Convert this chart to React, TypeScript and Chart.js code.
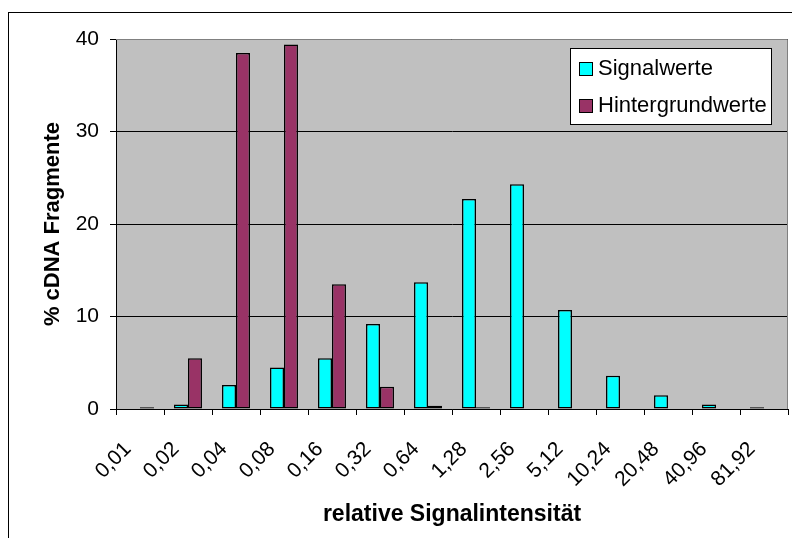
import React, { useEffect, useRef } from "react";
import { Chart, registerables } from "chart.js";

Chart.register(...registerables);

const categories = ["0,01", "0,02", "0,04", "0,08", "0,16", "0,32", "0,64", "1,28", "2,56", "5,12", "10,24", "20,48", "40,96", "81,92"];
const signalValues = [0, 0.5, 2.6, 4.5, 5.5, 9.2, 13.7, 22.7, 24.3, 10.7, 3.6, 1.5, 0.5, 0.2];
const backgroundValues = [0.2, 5.5, 38.5, 39.4, 13.5, 2.4, 0.35, 0.2, 0, 0, 0, 0, 0, 0];
const seriesNames = ["Signalwerte", "Hintergrundwerte"];
const seriesColors = ["#00FFFF", "#993366"];
const yMin = 0;
const yMax = 40;
const yStep = 10;
const yTitle = "% cDNA Fragmente";
const xTitle = "relative Signalintensität";

const FONT = "'Liberation Sans', Arial, Helvetica, sans-serif";

export default function App() {
  const ref = useRef<HTMLCanvasElement | null>(null);

  useEffect(() => {
    if (!ref.current) return;

    const framePlugin = {
      id: "framePlugin",
      beforeDraw(chart: any) {
        const ctx = chart.ctx;
        const a = chart.chartArea;
        ctx.save();
        ctx.fillStyle = "#ffffff";
        ctx.fillRect(0, 0, chart.width, chart.height);
        ctx.strokeStyle = "#000000";
        ctx.lineWidth = 1;
        ctx.strokeRect(8.5, 12.5, chart.width + 20, chart.height + 20);
        ctx.fillStyle = "#C0C0C0";
        ctx.fillRect(a.left, a.top, a.right - a.left, a.bottom - a.top);
        ctx.restore();
      },
      afterDraw(chart: any) {
        const ctx = chart.ctx;
        const a = chart.chartArea;
        ctx.save();
        // plot area border (top & right)
        ctx.strokeStyle = "#808080";
        ctx.lineWidth = 1;
        ctx.beginPath();
        ctx.moveTo(a.left, a.top + 0.5);
        ctx.lineTo(a.right - 0.5, a.top + 0.5);
        ctx.lineTo(a.right - 0.5, a.bottom);
        ctx.stroke();

        // legend
        const bx = a.right - 218;
        const by = a.top + 9;
        const bw = 201;
        const bh = 76;
        ctx.fillStyle = "#ffffff";
        ctx.fillRect(bx, by, bw, bh);
        ctx.strokeStyle = "#000000";
        ctx.strokeRect(bx + 0.5, by + 0.5, bw, bh);
        ctx.font = `22px ${FONT}`;
        ctx.textBaseline = "middle";
        ctx.textAlign = "left";
        chart.data.datasets.forEach((ds: any, i: number) => {
          const sy = by + 14 + i * 37;
          ctx.fillStyle = ds.backgroundColor;
          ctx.fillRect(bx + 9, sy, 14, 14);
          ctx.strokeStyle = "#000000";
          ctx.strokeRect(bx + 9.5, sy + 0.5, 13, 13);
          ctx.fillStyle = "#000000";
          ctx.fillText(ds.label, bx + 28, sy + 7);
        });
        ctx.restore();
      },
    };

    const chart = new Chart(ref.current, {
      type: "bar",
      data: {
        labels: categories,
        datasets: [
          {
            label: seriesNames[0],
            data: signalValues,
            backgroundColor: seriesColors[0],
            borderColor: "#000000",
            borderWidth: 1.5,
            borderSkipped: false,
          },
          {
            label: seriesNames[1],
            data: backgroundValues,
            backgroundColor: seriesColors[1],
            borderColor: "#000000",
            borderWidth: 1.5,
            borderSkipped: false,
          },
        ],
      },
      options: {
        responsive: false,
        animation: false,
        devicePixelRatio: 1,
        layout: { padding: { left: 0, top: 39, right: 4, bottom: 0 } },
        datasets: {
          bar: { categoryPercentage: 0.583, barPercentage: 1 },
        },
        plugins: {
          legend: { display: false },
          tooltip: { enabled: false },
        },
        scales: {
          x: {
            grid: {
              display: true,
              drawOnChartArea: false,
              drawTicks: true,
              tickLength: 6,
              color: "#000000",
              offset: true,
            },
            border: { display: true, color: "#000000", width: 1 },
            ticks: {
              color: "#000000",
              font: { family: FONT, size: 21 },
              minRotation: 45,
              maxRotation: 45,
              autoSkip: false,
              labelOffset: -12,
              padding: 22,
            },
            title: {
              display: true,
              text: xTitle,
              color: "#000000",
              font: { family: FONT, size: 23, weight: "bold" },
              padding: { top: 4, bottom: 10 },
            },
            afterFit(scale: any) {
              scale.height = 129;
              scale.paddingLeft = 0;
              scale.paddingRight = 0;
            },
          },
          y: {
            min: yMin,
            max: yMax,
            grid: {
              color: "#000000",
              drawTicks: true,
              tickLength: 6,
            },
            border: { display: true, color: "#000000", width: 1 },
            ticks: {
              stepSize: yStep,
              color: "#000000",
              font: { family: FONT, size: 21 },
              padding: 11,
            },
            title: {
              display: true,
              text: yTitle,
              color: "#000000",
              font: { family: FONT, size: 22, weight: "bold" },
              padding: { top: 40, bottom: 4 },
            },
            afterFit(scale: any) {
              scale.width = 116;
            },
          },
        },
      },
      plugins: [framePlugin],
    });

    return () => {
      chart.destroy();
    };
  }, []);

  return (
    <div style={{ position: "absolute", left: 0, top: 0, width: 792, height: 538 }}>
      <canvas ref={ref} width={792} height={538} style={{ display: "block" }} />
    </div>
  );
}
